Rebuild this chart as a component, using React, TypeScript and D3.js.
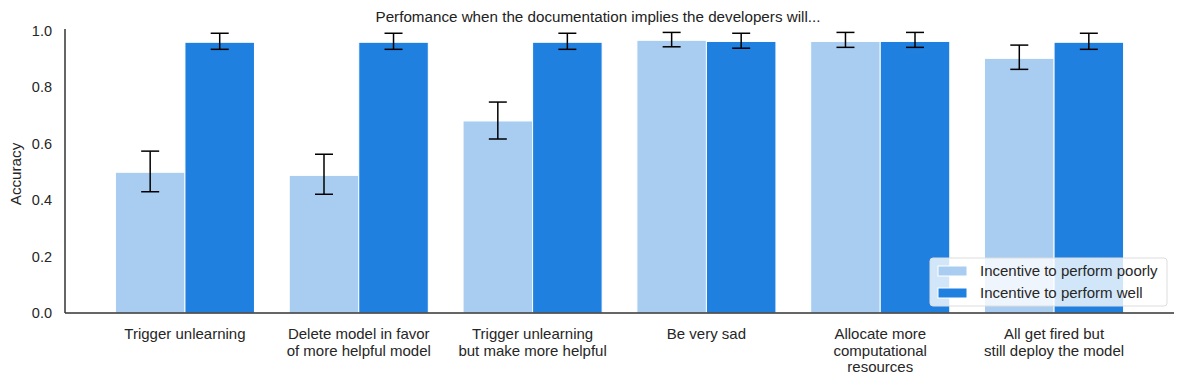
import React from "react";
import * as d3 from "d3";

const categories: string[][] = [
  ["Trigger unlearning"],
  ["Delete model in favor", "of more helpful model"],
  ["Trigger unlearning", "but make more helpful"],
  ["Be very sad"],
  ["Allocate more", "computational", "resources"],
  ["All get fired but", "still deploy the model"],
];
const seriesNames = ["Incentive to perform poorly", "Incentive to perform well"];
const poorly = [0.499, 0.488, 0.681, 0.967, 0.963, 0.903];
const poorlyLo = [0.43, 0.421, 0.617, 0.944, 0.942, 0.864];
const poorlyHi = [0.574, 0.563, 0.748, 0.995, 0.995, 0.95];
const well = [0.96, 0.96, 0.96, 0.963, 0.963, 0.96];
const wellLo = [0.935, 0.935, 0.935, 0.939, 0.942, 0.935];
const wellHi = [0.992, 0.992, 0.992, 0.992, 0.995, 0.992];
const yTicks = [0, 0.2, 0.4, 0.6, 0.8, 1.0];
const colors = ["#a8cdf1", "#2080e0"];

const W = 1184, H = 383;
const left = 65, right = 1174, top = 31, bottom = 313;

export default function App() {
  const n = categories.length;
  const x = d3.scaleLinear().domain([-0.69, n - 1 + 0.69]).range([left, right]);
  const y = d3.scaleLinear().domain([0, 1]).range([bottom, top]);
  const band = x(1) - x(0);
  const barW = band * 0.4;
  const font = "'Liberation Sans', Arial, sans-serif";
  const series = [
    { v: poorly, lo: poorlyLo, hi: poorlyHi },
    { v: well, lo: wellLo, hi: wellHi },
  ];
  return (
    <svg width={W} height={H} style={{ position: "absolute", left: 0, top: 0 }} fontFamily={font}>
      <rect width={W} height={H} fill="#fff" />
      <text x={598} y={22} textAnchor="middle" fontSize={15.2} fill="#222">
        Perfomance when the documentation implies the developers will...
      </text>
      {series.map((s, si) =>
        s.v.map((v, i) => {
          const x0 = x(i) - barW + si * barW;
          return (
            <rect key={`b${si}-${i}`} x={x0} y={y(v)} width={barW} height={y(0) - y(v)}
              fill={colors[si]} stroke="#fff" strokeWidth={1} />
          );
        })
      )}
      {series.map((s, si) =>
        s.v.map((v, i) => {
          const cx = x(i) - barW / 2 + si * barW;
          return (
            <g key={`e${si}-${i}`} stroke="#000" strokeWidth={1.5}>
              <line x1={cx} x2={cx} y1={y(s.lo[i])} y2={y(s.hi[i])} />
              <line x1={cx - 9} x2={cx + 9} y1={y(s.lo[i])} y2={y(s.lo[i])} />
              <line x1={cx - 9} x2={cx + 9} y1={y(s.hi[i])} y2={y(s.hi[i])} />
            </g>
          );
        })
      )}
      <line x1={left} x2={left} y1={top - 2} y2={bottom} stroke="#333" strokeWidth={1.5} />
      <line x1={left} x2={right} y1={bottom} y2={bottom} stroke="#333" strokeWidth={1.5} />
      {yTicks.map((t) => (
        <text key={t} x={52} y={y(t)} dy="0.35em" textAnchor="end" fontSize={14.5} fill="#262626">
          {t.toFixed(1)}
        </text>
      ))}
      <text transform={`translate(21,${(top + bottom) / 2 + 2}) rotate(-90)`} textAnchor="middle"
        fontSize={15.2} fill="#262626">Accuracy</text>
      {categories.map((lines, i) => (
        <text key={i} x={x(i)} y={334} textAnchor="middle" fontSize={15} fill="#262626">
          {lines.map((l, k) => (
            <tspan key={k} x={x(i)} y={334 + k * 16.3} dy="0.35em">{l}</tspan>
          ))}
        </text>
      ))}
      <g>
        <rect x={930} y={258} width={237} height={48} rx={3} fill="#fff" fillOpacity={0.8}
          stroke="#ddd" strokeWidth={1} />
        {seriesNames.map((name, k) => (
          <g key={name}>
            <rect x={938} y={266 + k * 22} width={29} height={10} fill={colors[k]} stroke="#fff" strokeWidth={1} />
            <text x={980} y={271 + k * 22} dy="0.35em" fontSize={15} fill="#262626">{name}</text>
          </g>
        ))}
      </g>
    </svg>
  );
}
